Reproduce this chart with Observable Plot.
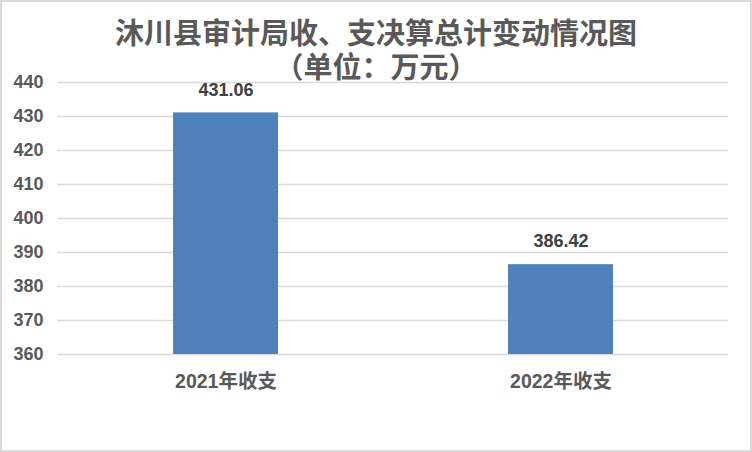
<!DOCTYPE html>
<html>
<head>
<meta charset="utf-8">
<script src="https://cdn.jsdelivr.net/npm/d3@7"></script>
<script src="https://cdn.jsdelivr.net/npm/@observablehq/plot@0.6"></script>
<style>
  html, body { margin: 0; padding: 0; background: #fff; }
  #chart { position: relative; width: 752px; height: 452px; box-shadow: inset 0 0 0 2px #d9d9d9; overflow: hidden; }
  .title { position: absolute; left: 0; width: 752px; text-align: center;
    font-family: "Liberation Sans", "Noto Sans CJK SC", sans-serif; font-weight: bold;
    font-size: 29px; line-height: 29px; height: 29px; color: #595959; white-space: nowrap; }
  #t1 { top: 20px; }
  #t2 { top: 54px; }
  #plot { position: absolute; top: 70px; left: 0; }
</style>
</head>
<body>
<div id="chart">
  <div class="title" id="t1">沐川县审计局收、支决算总计变动情况图</div>
  <div class="title" id="t2">（单位：万元）</div>
  <div id="plot"></div>
</div>
<script>
const categories = ["2021年收支", "2022年收支"];
const values = [431.06, 386.42];
const valueLabels = ["431.06", "386.42"];
const yTicks = [360, 370, 380, 390, 400, 410, 420, 430, 440];

const data = categories.map((c, i) => ({category: c, value: values[i], label: valueLabels[i]}));

const chart = Plot.plot({
  width: 752,
  height: 382,
  marginTop: 12,
  marginBottom: 98,
  marginLeft: 57,
  marginRight: 24,
  style: {
    fontFamily: "'Liberation Sans', 'Noto Sans CJK SC', sans-serif",
    fontSize: "18px",
    fontWeight: "bold",
    color: "#595959",
    background: "none",
    overflow: "visible"
  },
  x: {domain: categories, paddingInner: 0.6875, paddingOuter: 0.34375, label: null},
  y: {domain: [360, 440], label: null},
  marks: [
    Plot.ruleY(yTicks, {stroke: "#d9d9d9", strokeWidth: 1.5}),
    Plot.barY(data, {x: "category", y1: 360, y2: "value", fill: "#4f81bd"}),
    Plot.text(data, {x: "category", y: "value", text: "label", dy: -23, fontSize: 18, fontWeight: "bold", fill: "#404040"}),
    Plot.axisY({ticks: yTicks, tickSize: 0, tickPadding: 14, fontSize: 18, label: null}),
    Plot.axisX({tickSize: 0, tickPadding: 20, fontSize: 19.5, label: null})
  ]
});
document.getElementById("plot").appendChild(chart);
</script>
</body>
</html>
